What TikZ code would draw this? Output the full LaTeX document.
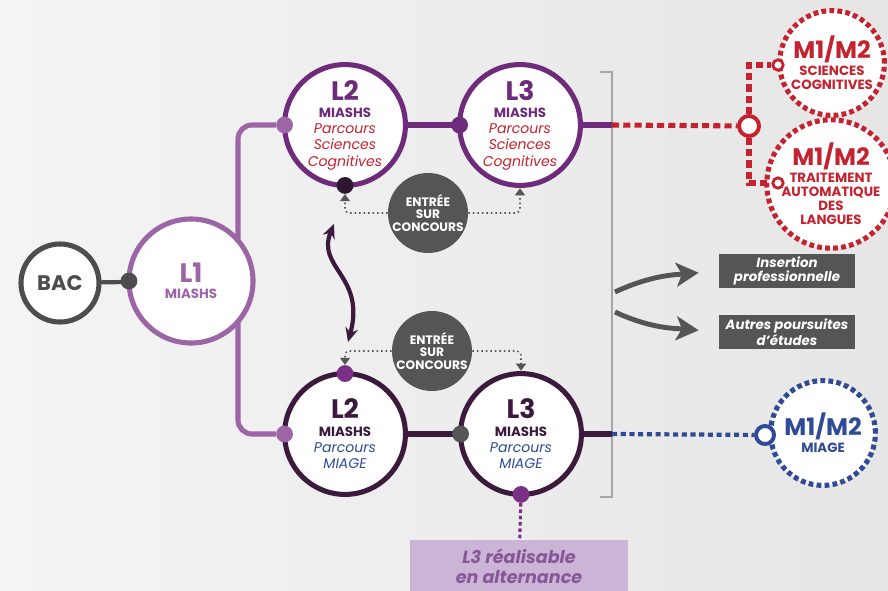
\documentclass[tikz,border=0pt]{standalone}
\usepackage{fontspec}
\setmainfont{Poppins}
\usetikzlibrary{arrows.meta}

\definecolor{fond}{HTML}{F4F4F4}
\definecolor{fondb}{HTML}{E6E6E6}
\definecolor{anthracite}{HTML}{4D4D4D}
\definecolor{lilas}{HTML}{9C65A5}
\definecolor{prune}{HTML}{6E2A7B}
\definecolor{aubergine}{HTML}{3B1A3D}
\definecolor{encre}{HTML}{2E1530}
\definecolor{violet}{HTML}{7C2F86}
\definecolor{rouge}{HTML}{C5222F}
\definecolor{bleu}{HTML}{2F4A97}
\definecolor{ardoise}{HTML}{555555}
\definecolor{mauve}{HTML}{CBB4D6}
\definecolor{mauvetexte}{HTML}{87579A}

\newcommand{\niv}[1]{{\fontsize{19}{19}\selectfont\bfseries #1}}
\newcommand{\mia}[1]{{\fontsize{9.5}{10}\selectfont\bfseries #1}}
\newcommand{\prc}[2]{{\color{#1}\fontsize{10}{10}\selectfont\itshape #2}}
\newcommand{\mm}{{\fontsize{17}{17}\selectfont M1/M2}}

\begin{document}
\begin{tikzpicture}
[
x=0.025cm, y=-0.025cm,
etape/.style={circle, draw=#1, fill=white, text=#1, line width=3.6pt, minimum size=3.02cm, inner sep=0pt, outer sep=0pt, align=center, font=\fontsize{10}{11.5}\selectfont},
pastille/.style={circle, fill=#1, minimum size=0.42cm, inner sep=0pt},
anneau/.style={circle, draw=#1, fill=white, line width=2.8pt, minimum size=0.42cm, inner sep=0pt},
master/.style={circle, draw=#1, fill=white, text=#1, line width=3.6pt, dash pattern=on 3.4pt off 2.3pt, minimum size=2.62cm, inner sep=0pt, align=center, font=\fontsize{9.5}{10}\selectfont\bfseries},
concours/.style={circle, fill=ardoise, text=white, minimum size=2cm, inner sep=0pt, align=center, font=\fontsize{8.7}{8.8}\selectfont\bfseries},
debouche/.style={fill=ardoise, text=white, minimum width=3.42cm, minimum height=0.86cm, inner sep=0pt, align=center, font=\fontsize{9.5}{10}\selectfont\bfseries\itshape},
pointille/.style={ardoise, line width=1.1pt, dash pattern=on 1.1pt off 2.1pt, rounded corners=3pt, -{Triangle[width=7pt,length=5pt]}},
fleche/.style={ardoise, line width=3.5pt, -{Stealth[length=16pt,width=17pt,inset=4pt]}, shorten >=14pt}
]

\useasboundingbox (0,0) rectangle (888,591);
\shade[left color=fond, right color=fondb] (0,0) rectangle (888,591);

\node[etape=anthracite, minimum size=1.95cm, font=\fontsize{15}{15}\selectfont\bfseries] (bac) at (60,283) {BAC};
\node[etape=prune] (l2a) at (345,125) {\niv{L2}\\[1pt]\mia{MIASHS}\\\prc{rouge}{Parcours}\\\prc{rouge}{Sciences}\\\prc{rouge}{Cognitives}};
\node[etape=prune] (l3a) at (520,125) {\niv{L3}\\[1pt]\mia{MIASHS}\\\prc{rouge}{Parcours}\\\prc{rouge}{Sciences}\\\prc{rouge}{Cognitives}};
\node[etape=aubergine] (l2b) at (345,434) {\niv{L2}\\[1pt]\mia{MIASHS}\\\prc{bleu}{Parcours}\\\prc{bleu}{MIAGE}};
\node[etape=aubergine] (l3b) at (521,434) {\niv{L3}\\[1pt]\mia{MIASHS}\\\prc{bleu}{Parcours}\\\prc{bleu}{MIAGE}};

\node[pastille=lilas] (p2a) at (l2a.west) {};
\node[pastille=lilas] (p2b) at (l2b.west) {};
\coordinate (fourche) at (238,283);
\draw[lilas, line width=3.6pt, rounded corners=10pt] (p2a) -| (fourche) |- (p2b);

\node[etape=lilas, minimum size=3.1cm] (l1) at (191,281) {\niv{L1}\\\mia{MIASHS}};
\draw[anthracite, line width=3pt] (bac) -- (l1);
\node[pastille=anthracite] (pbac) at (l1.west) {};

\draw[prune, line width=3.6pt] (l2a) -- (l3a);
\node[pastille=prune] (p3a) at (l3a.west) {};
\node[pastille=encre] (q2a) at (l2a.south) {};
\draw[aubergine, line width=3.6pt] (l2b) -- (l3b);
\node[pastille=ardoise] (p3b) at (l3b.west) {};
\node[pastille=violet] (q2b) at (l2b.north) {};
\node[pastille=violet] (q3b) at (l3b.south) {};

\node[concours] (ca) at (428,213) {ENTRÉE\\SUR\\CONCOURS};
\node[concours] (cb) at (432,351) {ENTRÉE\\SUR\\CONCOURS};
\draw[pointille] (ca.west) -| (q2a);
\draw[pointille, shorten >=2pt] (ca.east) -| (l3a);
\draw[pointille] (cb.west) -| (q2b);
\draw[pointille, shorten >=2pt] (cb.east) -| (l3b);

\coordinate (va) at (334,224);
\coordinate (vb) at (348,342);
\draw[aubergine, line width=3pt, {Stealth[length=10pt,width=9pt]}-{Stealth[length=10pt,width=9pt]}] (va) .. controls (316,268) and (366,276) .. (vb);

\draw[gray!70, line width=0.8pt] (600,72) -| (612,497) -- (600,497);

\coordinate (ba) at (612,125);
\draw[prune, line width=3.6pt] (l3a) -- (ba);
\node[master=rouge] (msc) at (832,63) {\mm\\[2pt]SCIENCES\\COGNITIVES};
\node[master=rouge] (mtal) at (831,184) {\mm\\[2pt]TRAITEMENT\\AUTOMATIQUE\\DES\\LANGUES};
\node[anneau=rouge, minimum size=0.5cm] (ra) at (749,126) {};
\node[anneau=rouge, minimum size=0.26cm, line width=2pt] (rsc) at (778,65) {};
\node[anneau=rouge, minimum size=0.26cm, line width=2pt] (rtal) at (778,183) {};
\draw[rouge, line width=3.6pt, dash pattern=on 5pt off 3pt] (ba) -- (ra);
\draw[rouge, line width=3.6pt, dash pattern=on 5pt off 3pt] (ra) |- (rsc);
\draw[rouge, line width=3.6pt, dash pattern=on 5pt off 3pt] (ra) |- (rtal);

\coordinate (bb) at (612,434);
\draw[aubergine, line width=3.6pt] (l3b) -- (bb);
\node[master=bleu] (mmiage) at (823,433) {\mm\\[2pt]MIAGE};
\node[anneau=bleu, minimum size=0.45cm] (rb) at (765,435) {};
\draw[bleu, line width=3pt, dash pattern=on 3.6pt off 2.6pt] (bb) -- (rb);

\node[debouche] (ins) at (787,271) {Insertion\\professionnelle};
\node[debouche] (aut) at (787,332) {Autres poursuites\\d’études};
\coordinate (fa) at (615,292);
\coordinate (fb) at (615,312);
\draw[fleche] (fa) to[out=25, in=185] (ins.west);
\draw[fleche] (fb) to[out=-25, in=175] (aut.west);

\node[fill=mauve, text=mauvetexte, minimum width=5.45cm, minimum height=1.28cm, inner sep=0pt, align=center, font=\fontsize{12.5}{14}\selectfont\bfseries\itshape] (alt) at (519,566) {L3 réalisable\\en alternance};
\draw[violet, line width=2.2pt, dash pattern=on 2.5pt off 2pt] (q3b) -- (alt);

\end{tikzpicture}
\end{document}
